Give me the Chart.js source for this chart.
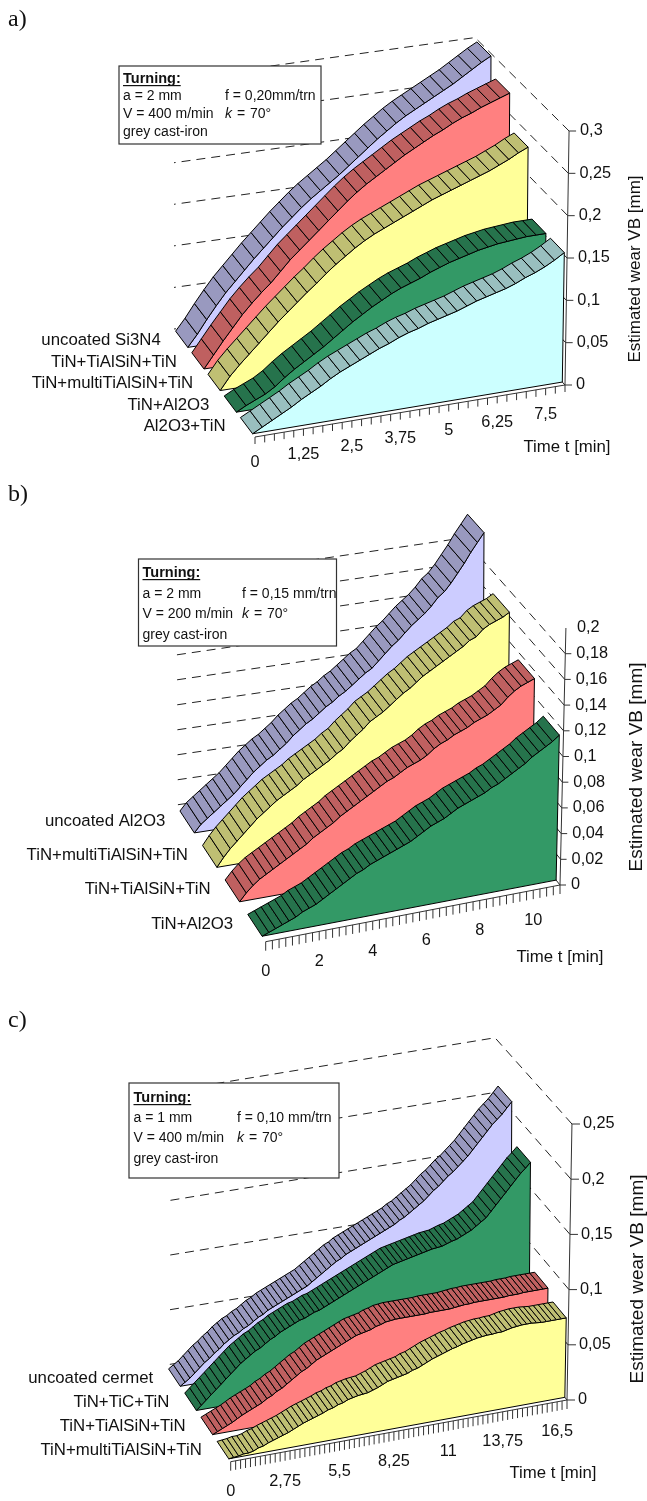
<!DOCTYPE html>
<html lang="en">
<head>
<meta charset="UTF-8">
<title>Estimated wear VB</title>
<script src="https://cdn.jsdelivr.net/npm/chart.js@4/dist/chart.umd.min.js"></script>
<style>
    body { margin: 0; background: #fff; }
    canvas { position: absolute; left: 0; }
</style>
</head>
<body>
<canvas id="chartA" width="647" height="475" style="top:0"></canvas>
<canvas id="chartB" width="647" height="515" style="top:475px"></canvas>
<canvas id="chartC" width="647" height="511" style="top:990px"></canvas>

<script>
// ---------- panel a ----------
const timesA = [0,.25,.5,.75,1,1.25,1.5,1.75,2,2.25,2.5,2.75,3,3.25,3.5,3.75,4,4.25,4.5,4.75,5,5.25,5.5,5.75,6,6.25,6.5,6.75,7,7.25,7.5,7.75,8];
const xTicksA = [0,1.25,2.5,3.75,5,6.25,7.5];
const xLabelsA = ['0','1,25','2,5','3,75','5','6,25','7,5'];
const yTicksA = [0,.05,.1,.15,.2,.25,.3];
const yLabelsA = ['0','0,05','0,1','0,15','0,2','0,25','0,3'];
const namesA = ['uncoated Si3N4','TiN+TiAlSiN+TiN','TiN+multiTiAlSiN+TiN','TiN+Al2O3','Al2O3+TiN'];
const sideA = ['#CCCCFF','#FF8080','#FFFF99','#339966','#CCFFFF'];
const topA = ['#9999BF','#BF6060','#BFBF73','#26734C','#99BFBF'];
const uncoatedA = [0,.014,.030,.045,.059,.071,.083,.095,.106,.117,.128,.138,.148,.157,.165,.173,.181,.190,.199,.208,.217,.225,.233,.240,.246,.252,.258,.264,.270,.277,.284,.291,.297];
const tialsinA = [0,.015,.030,.044,.058,.070,.081,.091,.103,.115,.125,.135,.145,.155,.165,.175,.184,.192,.199,.206,.213,.220,.226,.232,.238,.243,.249,.254,.258,.263,.267,.271,.275];
const multiA = [0,.015,.027,.038,.049,.060,.071,.081,.091,.101,.110,.120,.129,.137,.145,.152,.158,.163,.168,.173,.178,.183,.188,.192,.196,.200,.204,.208,.212,.217,.222,.228,.233];
const al2o3A = [0,.006,.011,.016,.023,.032,.040,.047,.054,.061,.069,.077,.085,.092,.099,.105,.111,.116,.120,.124,.129,.133,.137,.140,.143,.146,.148,.150,.151,.152,.153,.153,.153];
const al2o3TinA = [0,.006,.012,.018,.024,.031,.037,.043,.050,.056,.061,.066,.071,.076,.080,.085,.089,.092,.096,.099,.102,.105,.109,.113,.116,.119,.122,.126,.131,.135,.140,.146,.153];

// ---------- panel b ----------
const timesB = [0,.25,.5,.75,1,1.25,1.5,1.75,2,2.25,2.5,2.75,3,3.25,3.5,3.75,4,4.25,4.5,4.75,5,5.25,5.5,5.75,6,6.25,6.5,6.75,7,7.25,7.5,7.75,8,8.25,8.5,8.75,9,9.25,9.5,9.75,10,10.25,10.5,10.75,11];
const xTicksB = [0,2,4,6,8,10];
const xLabelsB = ['0','2','4','6','8','10'];
const yTicksB = [0,.02,.04,.06,.08,.1,.12,.14,.16,.18,.2];
const yLabelsB = ['0','0,02','0,04','0,06','0,08','0,1','0,12','0,14','0,16','0,18','0,2'];
const namesB = ['uncoated Al2O3','TiN+multiTiAlSiN+TiN','TiN+TiAlSiN+TiN','TiN+Al2O3'];
const sideB = ['#CCCCFF','#FFFF99','#FF8080','#339966'];
const topB = ['#9999BF','#BFBF73','#BF6060','#26734C'];
const uncoatedB = [0,.006,.010,.014,.018,.022,.026,.031,.036,.041,.045,.049,.052,.056,.060,.065,.069,.073,.076,.080,.084,.087,.091,.094,.098,.102,.106,.109,.114,.119,.124,.128,.133,.138,.142,.146,.151,.157,.161,.167,.174,.181,.189,.196,.203];
const multiB = [0,.007,.013,.018,.023,.028,.033,.037,.041,.045,.048,.051,.054,.058,.061,.064,.067,.070,.074,.077,.082,.086,.090,.095,.098,.101,.105,.109,.113,.116,.120,.124,.127,.130,.133,.136,.139,.142,.146,.148,.153,.156,.158,.160,.163];
const tialsinB = [0,.006,.011,.015,.018,.021,.024,.027,.030,.033,.036,.040,.043,.046,.049,.053,.056,.059,.062,.065,.068,.071,.074,.076,.079,.082,.084,.086,.089,.093,.096,.098,.101,.103,.105,.108,.110,.112,.115,.118,.123,.127,.130,.132,.134];
const al2o3B = [0,.002,.004,.006,.008,.010,.013,.015,.017,.020,.023,.026,.029,.032,.035,.037,.040,.042,.044,.046,.048,.050,.052,.055,.058,.061,.063,.065,.068,.071,.073,.075,.077,.079,.082,.084,.087,.090,.093,.096,.100,.103,.106,.109,.113];

// ---------- panel c ----------
const timesC = [0,.25,.5,.75,1,1.25,1.5,1.75,2,2.25,2.5,2.75,3,3.25,3.5,3.75,4,4.25,4.5,4.75,5,5.25,5.5,5.75,6,6.25,6.5,6.75,7,7.25,7.5,7.75,8,8.25,8.5,8.75,9,9.25,9.5,9.75,10,10.25,10.5,10.75,11,11.25,11.5,11.75,12,12.25,12.5,12.75,13,13.25,13.5,13.75,14,14.25,14.5,14.75,15,15.25,15.5,15.75,16,16.25,16.5,16.75,17];
const xTicksC = [0,2.75,5.5,8.25,11,13.75,16.5];
const xLabelsC = ['0','2,75','5,5','8,25','11','13,75','16,5'];
const yTicksC = [0,.05,.1,.15,.2,.25];
const yLabelsC = ['0','0,05','0,1','0,15','0,2','0,25'];
const namesC = ['uncoated cermet','TiN+TiC+TiN','TiN+TiAlSiN+TiN','TiN+multiTiAlSiN+TiN'];
const sideC = ['#CCCCFF','#339966','#FF8080','#FFFF99'];
const topC = ['#9999BF','#26734C','#BF6060','#BFBF73'];
const uncoatedC = [0,.003,.006,.010,.014,.018,.021,.025,.028,.032,
    .035,.038,.040,.043,.045,.048,.051,.053,.056,.058,
    .060,.062,.064,.066,.068,.070,.072,.075,.078,.081,
    .084,.087,.090,.092,.095,.097,.099,.101,.103,.105,
    .107,.109,.111,.113,.115,.118,.120,.123,.126,.129,
    .132,.136,.140,.143,.147,.151,.154,.158,.162,.166,
    .171,.176,.181,.186,.191,.195,.199,.204,.209];
const ticC = [0,.004,.008,.012,.016,.020,.024,.028,.032,.036,
    .039,.042,.045,.047,.050,.053,.055,.058,.060,.062,
    .064,.066,.067,.069,.071,.072,.074,.076,.078,.080,
    .082,.084,.086,.088,.090,.092,.094,.096,.098,.100,
    .102,.103,.104,.105,.106,.107,.108,.109,.110,.1105,
    .111,.1125,.114,.115,.117,.119,.121,.124,.127,.130,
    .135,.140,.145,.150,.155,.160,.165,.169,.1735];
const tialsinC = [0,.002,.004,.006,.008,.0105,.013,.015,.017,.019,
    .021,.024,.026,.029,.031,.034,.037,.040,.043,.045,
    .048,.051,.053,.055,.057,.059,.061,.063,.065,.067,
    .068,.069,.070,.072,.073,.0745,.075,.0755,.0755,.0755,
    .0755,.0755,.0755,.0755,.076,.076,.076,.076,.076,.0765,
    .077,.0775,.0775,.078,.078,.078,.078,.078,.078,.078,
    .0785,.0785,.0785,.079,.079,.079,.079,.079,.079];
const multiC = [0,.0005,.001,.002,.002,.003,.005,.006,.008,.0095,
    .011,.0125,.014,.016,.018,.020,.0215,.023,.0245,.026,
    .028,.029,.031,.032,.034,.035,.036,.0365,.037,.0385,
    .040,.042,.044,.045,.046,.047,.048,.050,.051,.053,
    .055,.057,.0585,.060,.0615,.063,.064,.0655,.0665,.0675,
    .0685,.069,.0695,.0695,.070,.070,.071,.072,.0725,.073,
    .073,.073,.0725,.072,.072,.072,.072,.072,.072];

const SANS = '"Liberation Sans", Arial, sans-serif';

// draws one 3D area chart. the library only gives the scales and point pixels,
// the plugin lifts those pixels on to a sheared floor
function makePanel(p) {
    function project(u, h, d) {
        const fx = p.FL[0] + (p.FR[0] - p.FL[0]) * u, fy = p.FL[1] + (p.FR[1] - p.FL[1]) * u;
        const bx = p.BL[0] + (p.BR[0] - p.BL[0]) * u, by = p.BL[1] + (p.BR[1] - p.BL[1]) * u;
        return [fx + (bx - fx) * d + p.tilt * (1 - d) * h, fy + (by - fy) * d - h * (1 - p.shrink * d)];
    }
    function path(ctx, pts) {
        ctx.beginPath();
        pts.forEach((q, i) => i ? ctx.lineTo(q[0], q[1]) : ctx.moveTo(q[0], q[1]));
    }
    const plugin = {
        id: 'wear3d',
        afterDatasetsDraw(chart) {
            const ctx = chart.ctx, xs = chart.scales.x, ys = chart.scales.y;
            const uOf = px => (px - xs.left) / (xs.right - xs.left);
            const hOf = v => ys.bottom - ys.getPixelForValue(v);
            ctx.save();
            ctx.translate(0, -p.top);
            ctx.lineJoin = 'miter';

            // dashed walls
            ctx.strokeStyle = '#222';
            ctx.lineWidth = 1;
            ctx.setLineDash([9, 6]);
            ys.ticks.forEach(t => {
                if (p.noTopGrid && t.value === ys.max) return;
                const h = hOf(t.value);
                path(ctx, [project(1, h, 0), project(1, h, 1), project(0, h, 1)]);
                ctx.stroke();
            });
            ctx.setLineDash([]);

            // wear axis
            ctx.strokeStyle = '#333';
            path(ctx, [project(1, 0, 0), project(1, hOf(ys.max), 0)]);
            ctx.stroke();
            ctx.font = '16.3px ' + SANS;
            ctx.fillStyle = '#111';
            ctx.textBaseline = 'middle';
            ctx.textAlign = 'left';
            ys.ticks.forEach((t, i) => {
                const q = project(1, hOf(t.value), 0);
                if (!(p.noTopGrid && t.value === ys.max)) {
                    path(ctx, [q, [q[0] + p.yTick, q[1]]]);
                    ctx.stroke();
                }
                ctx.fillText(p.yLabels[i], q[0] + 11, q[1]);
            });

            // time axis
            path(ctx, [project(0, 0, 0), project(1, 0, 0)]);
            ctx.stroke();
            xs.ticks.forEach(t => {
                const q = project(uOf(xs.getPixelForValue(t.value)), 0, 0);
                path(ctx, [q, [q[0], q[1] + p.xTick]]);
                ctx.stroke();
            });
            ctx.textAlign = 'center';
            p.xTicks.forEach((v, i) => {
                const q = project(uOf(xs.getPixelForValue(v)), 0, 0);
                ctx.fillText(p.xLabels[i], q[0], q[1] + p.xLabelGap);
            });

            // series, back one first
            const n = chart.data.datasets.length;
            chart.data.datasets.forEach((ds, i) => {
                const d = p.d0 + p.dStep * (n - 1 - i);
                const pts = chart.getDatasetMeta(i).data;
                const front = pts.map(e => project(uOf(e.x), ys.bottom - e.y, d));
                const back = pts.map(e => project(uOf(e.x), ys.bottom - e.y, d + p.ribbon));
                ctx.strokeStyle = '#000';
                ctx.fillStyle = p.side[i];
                path(ctx, front.concat([project(uOf(pts[pts.length - 1].x), 0, d), project(uOf(pts[0].x), 0, d)]));
                ctx.closePath();
                ctx.fill();
                ctx.stroke();
                ctx.fillStyle = p.topColor[i];
                for (let k = 0; k < front.length - 1; k++) {
                    path(ctx, [front[k], front[k + 1], back[k + 1], back[k]]);
                    ctx.closePath();
                    ctx.fill();
                    ctx.stroke();
                }
                // series name next to the front corner
                ctx.fillStyle = '#111';
                ctx.font = '16.8px ' + SANS;
                ctx.textAlign = 'right';
                ctx.fillText(p.names[i], front[0][0] + p.nameGap[0], front[0][1] + p.nameGap[1]);
            });

            // axis titles
            ctx.fillStyle = '#111';
            ctx.font = '16.8px ' + SANS;
            ctx.textAlign = 'center';
            ctx.fillText('Time t [min]', p.timeTitle[0], p.timeTitle[1]);
            ctx.save();
            ctx.translate(p.wearTitle[0], p.wearTitle[1]);
            ctx.rotate(-Math.PI / 2);
            ctx.font = p.wearFont + 'px ' + SANS;
            ctx.fillText('Estimated wear VB [mm]', 0, 0);
            ctx.restore();

            // cutting data box
            const b = p.box;
            ctx.fillStyle = '#fff';
            ctx.strokeStyle = '#333';
            ctx.lineWidth = 1.2;
            ctx.fillRect(b.x, b.y, b.w, b.h);
            ctx.strokeRect(b.x, b.y, b.w, b.h);
            ctx.fillStyle = '#111';
            ctx.textAlign = 'left';
            ctx.textBaseline = 'alphabetic';
            ctx.font = 'bold 14.5px ' + SANS;
            ctx.fillText('Turning:', b.tx, b.lines[0]);
            const w = ctx.measureText('Turning:').width;
            ctx.fillRect(b.tx, b.lines[0] + 2, w, 1.2);
            ctx.font = '14px ' + SANS;
            ctx.fillText(p.boxText[0], b.tx, b.lines[1]);
            ctx.fillText(p.boxText[1], b.col2, b.lines[1]);
            ctx.fillText(p.boxText[2], b.tx, b.lines[2]);
            ctx.fillText('= ', b.col2 + 12, b.lines[2]);
            ctx.fillText('70°', b.col2 + 25, b.lines[2]);
            ctx.fillText('grey cast-iron', b.tx, b.lines[3]);
            ctx.font = 'italic 14px ' + SANS;
            ctx.fillText('k', b.col2, b.lines[2]);

            // panel letter
            ctx.font = '24px "Liberation Serif", serif';
            ctx.fillText(p.letter, 8, p.letterY);
            ctx.restore();
        }
    };

    return new Chart(document.getElementById(p.id), {
        type: 'line',
        data: {
            datasets: p.series.map((vals, i) => ({
                label: p.names[i],
                data: vals.map((v, k) => ({ x: p.times[k], y: v })),
                showLine: false,
                pointRadius: 0
            }))
        },
        options: {
            responsive: false,
            animation: false,
            layout: { padding: {
                left: p.FL[0], right: 647 - p.FR[0],
                top: p.yTop - p.top, bottom: p.top + p.height - p.yZero
            } },
            plugins: { legend: { display: false }, tooltip: { enabled: false } },
            scales: {
                x: {
                    type: 'linear', display: false,
                    min: p.times[0], max: p.times[p.times.length - 1],
                    ticks: { autoSkip: false },
                    afterBuildTicks: s => { s.ticks = p.times.map(v => ({ value: v })); }
                },
                y: {
                    type: 'linear', display: false,
                    min: p.yTicks[0], max: p.yTicks[p.yTicks.length - 1],
                    ticks: { autoSkip: false },
                    afterBuildTicks: s => { s.ticks = p.yTicks.map(v => ({ value: v })); }
                }
            }
        },
        plugins: [plugin]
    });
}

makePanel({
    id: 'chartA', top: 0, height: 475, letter: 'a)', letterY: 26,
    times: timesA, xTicks: xTicksA, xLabels: xLabelsA, yTicks: yTicksA, yLabels: yLabelsA,
    names: namesA, side: sideA, topColor: topA,
    series: [uncoatedA, tialsinA, multiA, al2o3A, al2o3TinA],
    FL: [255, 437], FR: [565, 385], BL: [174, 329], BR: [475, 287],
    yZero: 385, yTop: 131, tilt: .016, shrink: .018,
    d0: .03, dStep: .2, ribbon: .15,
    yTick: 7, xTick: 7, xLabelGap: 26, nameGap: [-27, -7],
    timeTitle: [567, 447], wearTitle: [635, 269], wearFont: 17,
    box: { x: 119, y: 66, w: 202, h: 78, tx: 123, col2: 225, lines: [83, 100, 118, 136] },
    boxText: ['a = 2 mm', 'f = 0,20mm/trn', 'V = 400 m/min']
});

makePanel({
    id: 'chartB', top: 475, height: 515, letter: 'b)', letterY: 501,
    times: timesB, xTicks: xTicksB, xLabels: xLabelsB, yTicks: yTicksB, yLabels: yLabelsB,
    names: namesB, side: sideB, topColor: topB,
    series: [uncoatedB, multiB, tialsinB, al2o3B],
    FL: [265.7, 941.7], FR: [560, 885], BL: [176, 805], BR: [463, 763],
    yZero: 885, yTop: 628, tilt: .023, shrink: .027,
    d0: .04, dStep: .252, ribbon: .16, noTopGrid: true,
    yTick: 6, xTick: 9, xLabelGap: 30, nameGap: [-29, -12],
    timeTitle: [560, 957], wearTitle: [637, 767], wearFont: 19,
    box: { x: 138.5, y: 559, w: 198, h: 87, tx: 142.5, col2: 242, lines: [577, 598, 618, 639] },
    boxText: ['a = 2 mm', 'f = 0,15 mm/trn', 'V = 200 m/min']
});

makePanel({
    id: 'chartC', top: 990, height: 511, letter: 'c)', letterY: 1027,
    times: timesC, xTicks: xTicksC, xLabels: xLabelsC, yTicks: yTicksC, yLabels: yLabelsC,
    names: namesC, side: sideC, topColor: topC,
    series: [uncoatedC, ticC, tialsinC, multiC],
    FL: [230.7, 1461.7], FR: [567, 1400], BL: [166, 1365], BR: [495, 1311],
    yZero: 1400, yTop: 1124, tilt: .018, shrink: .01,
    d0: .03, dStep: .25, ribbon: .18,
    yTick: 8, xTick: 9, xLabelGap: 30, nameGap: [-27, -8],
    timeTitle: [553, 1473], wearTitle: [638, 1279], wearFont: 19,
    box: { x: 129, y: 1083, w: 210, h: 95, tx: 133.5, col2: 237, lines: [1102, 1122, 1142, 1163] },
    boxText: ['a = 1 mm', 'f = 0,10 mm/trn', 'V = 400 m/min']
});
</script>
</body>
</html>
